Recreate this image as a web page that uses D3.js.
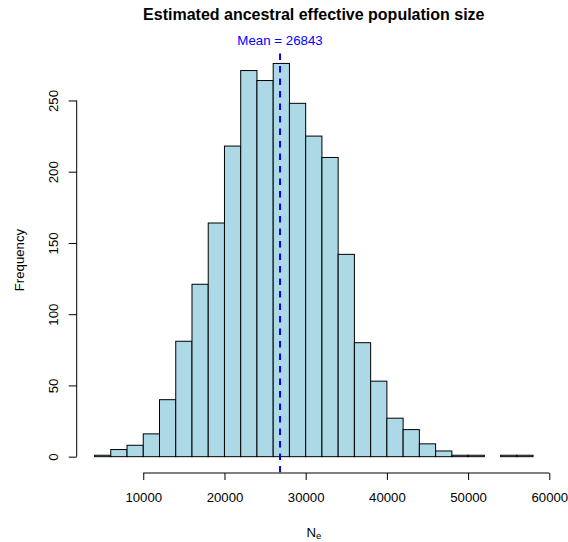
<!DOCTYPE html>
<html>
<head>
<meta charset="utf-8">
<script src="https://cdn.jsdelivr.net/npm/d3@7"></script>
<style>
  html, body { margin: 0; padding: 0; background: #fff; }
  svg text { font-family: "Liberation Sans", Arial, Helvetica, sans-serif; }
</style>
</head>
<body>
<svg id="chart" width="568" height="542"></svg>
<script>
// Histogram bins of estimated Ne (bin width 2000)
const binStarts = [4000, 6000, 8000, 10000, 12000, 14000, 16000, 18000, 20000, 22000,
                   24000, 26000, 28000, 30000, 32000, 34000, 36000, 38000, 40000, 42000,
                   44000, 46000, 48000, 50000, 52000, 54000, 56000];
const binWidth = 2000;
const counts = [1, 5, 8, 16, 40, 81, 121, 164, 218, 271,
                264, 276, 248, 225, 210, 142, 80, 53, 27, 19,
                9, 4, 1, 1, 0, 1, 1];
const xTicks = [10000, 20000, 30000, 40000, 50000, 60000];
const yTicks = [0, 50, 100, 150, 200, 250];
const meanNe = 26843;

const titleText = "Estimated ancestral effective population size";
const yLabel = "Frequency";

const svg = d3.select("#chart");

// plot region
const plotL = 77, plotR = 550.6, plotT = 47.7, plotB = 472.4;

// R-style 4% axis extension
const xMin = d3.min(binStarts), xMax = d3.max(binStarts) + binWidth;
const xPad = (xMax - xMin) * 0.04;
const yMax = d3.max(counts);
const yPad = yMax * 0.04;

const x = d3.scaleLinear().domain([xMin - xPad, xMax + xPad]).range([plotL, plotR]);
const y = d3.scaleLinear().domain([-yPad, yMax + yPad]).range([plotB, plotT]);

svg.append("defs").append("clipPath").attr("id", "plotClip")
  .append("rect").attr("x", plotL).attr("y", plotT)
  .attr("width", plotR - plotL).attr("height", plotB - plotT);

// bars
svg.append("g").selectAll("rect")
  .data(binStarts.map((s, i) => ({ s, c: counts[i] })))
  .join("rect")
  .attr("x", d => x(d.s))
  .attr("y", d => y(d.c))
  .attr("width", d => x(d.s + binWidth) - x(d.s))
  .attr("height", d => y(0) - y(d.c))
  .attr("fill", "#ADD8E6")
  .attr("stroke", "#000")
  .attr("stroke-width", 1);

// mean line
svg.append("line")
  .attr("clip-path", "url(#plotClip)")
  .attr("x1", x(meanNe)).attr("x2", x(meanNe))
  .attr("y1", plotB).attr("y2", plotT)
  .attr("stroke", "#0000FF")
  .attr("stroke-width", 2)
  .attr("stroke-dasharray", "6.5,6");

svg.append("text")
  .attr("x", x(meanNe)).attr("y", 45)
  .attr("text-anchor", "middle")
  .attr("font-size", "13.3px")
  .attr("fill", "#0000FF")
  .text("Mean = " + meanNe);

// x axis
const xAxis = d3.axisBottom(x).tickValues(xTicks).tickSize(7).tickFormat(d3.format("d"));
const gx = svg.append("g").attr("transform", `translate(0,${plotB + 0.6})`).call(xAxis);
gx.select(".domain").attr("d", `M${x(xTicks[0])},0H${x(xTicks[xTicks.length - 1])}`)
  .attr("stroke", "#000");
gx.selectAll(".tick line").attr("stroke", "#000");
gx.selectAll(".tick text")
  .attr("font-size", "13.2px").attr("fill", "#000")
  .attr("font-family", "Liberation Sans, Arial, sans-serif")
  .attr("dy", null).attr("y", 28.5);

// y axis
const yAxis = d3.axisLeft(y).tickValues(yTicks).tickSize(8).tickFormat(d3.format("d"));
const gy = svg.append("g").attr("transform", `translate(${plotL - 0.3},0)`).call(yAxis);
gy.select(".domain").attr("d", `M0,${y(yTicks[0])}V${y(yTicks[yTicks.length - 1])}`)
  .attr("stroke", "#000");
gy.selectAll(".tick line").attr("stroke", "#000");
gy.selectAll(".tick text")
  .attr("font-size", "13.2px").attr("fill", "#000")
  .attr("font-family", "Liberation Sans, Arial, sans-serif")
  .attr("x", null).attr("dy", null)
  .attr("text-anchor", "middle")
  .attr("transform", "translate(-19,0) rotate(-90)");

// title
svg.append("text")
  .attr("x", (plotL + plotR) / 2).attr("y", 20)
  .attr("text-anchor", "middle")
  .attr("font-size", "16px").attr("font-weight", "bold")
  .text(titleText);

// axis titles
const xl = svg.append("text")
  .attr("x", (plotL + plotR) / 2).attr("y", 536.5)
  .attr("text-anchor", "middle")
  .attr("font-size", "13.2px");
xl.append("tspan").text("N");
xl.append("tspan").attr("font-size", "9.5px").attr("dy", 2.5).text("e");

svg.append("text")
  .attr("transform", `translate(23.5,${(plotT + plotB) / 2}) rotate(-90)`)
  .attr("text-anchor", "middle")
  .attr("font-size", "13.2px")
  .text(yLabel);
</script>
</body>
</html>
